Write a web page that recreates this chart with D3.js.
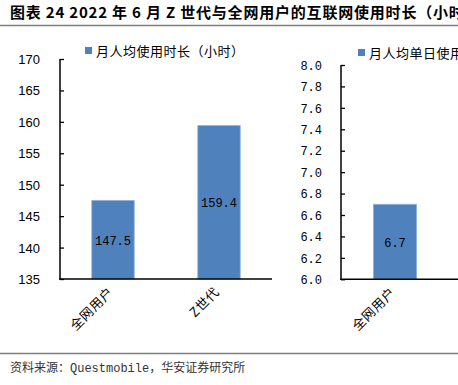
<!DOCTYPE html>
<html><head><meta charset="utf-8">
<script src="https://cdn.jsdelivr.net/npm/d3@7"></script>
<style>
html,body{margin:0;padding:0;background:#fff;overflow:hidden;}
svg{display:block;}
</style></head>
<body>
<script>
const titleText = "图表 24 2022 年 6 月 Z 世代与全网用户的互联网使用时长（小时）";
const sourceText = "资料来源：Questmobile，华安证券研究所";
const leftCategories = ["全网用户", "Z世代"];
const leftValues = [147.5, 159.4];
const leftTicks = [135, 140, 145, 150, 155, 160, 165, 170];
const leftLegend = "月人均使用时长（小时）";
const rightCategories = ["全网用户"];
const rightValues = [6.7];
const rightTicks = [6.0, 6.2, 6.4, 6.6, 6.8, 7.0, 7.2, 7.4, 7.6, 7.8, 8.0];
const rightLegend = "月人均单日使用时长（小时）";

const W = 458, H = 385;
const barColor = "#4F81BD";
const cjk = "'Noto Sans CJK SC', sans-serif";
const mono = "'Liberation Mono', 'Noto Sans CJK SC', monospace";

const svg = d3.select("body").append("svg").attr("width", W).attr("height", H);

// Title
svg.append("text").attr("x", 10).attr("y", 18)
  .attr("font-family", cjk).attr("font-weight", "bold").attr("font-size", 15)
  .attr("letter-spacing", 0.8)
  .attr("fill", "#000").text(titleText);
svg.append("line").attr("x1", 0).attr("x2", W).attr("y1", 25.5).attr("y2", 25.5)
  .attr("stroke", "#7f7f7f").attr("stroke-width", 1.5);

// Footer
svg.append("line").attr("x1", 0).attr("x2", W).attr("y1", 353.5).attr("y2", 353.5)
  .attr("stroke", "#7f7f7f").attr("stroke-width", 1.5);
svg.append("text").attr("x", 10).attr("y", 372)
  .attr("font-family", mono).attr("font-size", 12).attr("fill", "#333")
  .text(sourceText);

function panel(opts) {
  const g = svg.append("g");
  const y = d3.scaleLinear().domain(opts.domain).range([opts.y0, opts.y1]);
  const x = d3.scaleBand().domain(opts.categories).range([opts.x0, opts.x1])
    .paddingInner(0.6).paddingOuter(0.3);

  // bars
  g.selectAll("rect.bar").data(opts.values).join("rect")
    .attr("class", "bar")
    .attr("x", (d, i) => x(opts.categories[i]))
    .attr("width", x.bandwidth())
    .attr("y", d => y(d))
    .attr("height", d => y(opts.domain[0]) - y(d))
    .attr("fill", barColor)
    .attr("stroke", "#8DB0DA").attr("stroke-width", 0.8);

  // data labels
  g.selectAll("text.lbl").data(opts.values).join("text")
    .attr("class", "lbl")
    .attr("x", (d, i) => x(opts.categories[i]) + x.bandwidth() / 2)
    .attr("y", d => (y(d) + y(opts.domain[0])) / 2 + 5)
    .attr("text-anchor", "middle")
    .attr("font-family", mono).attr("font-size", 12).attr("fill", "#000")
    .text(d => d3.format(".1f")(d));

  // y axis
  const ya = d3.axisLeft(y).tickValues(opts.ticks).tickFormat(opts.fmt).tickSize(0).tickPadding(0);
  const yg = g.append("g").attr("transform", `translate(${opts.x0},0)`).call(ya);
  yg.select(".domain").remove();
  yg.selectAll(".tick text")
    .attr("x", opts.labelRight - opts.x0)
    .attr("dy", "0.35em")
    .attr("font-family", opts.tickFont).attr("font-size", opts.tickSize).attr("fill", "#000");
  yg.selectAll(".tick").append("line")
    .attr("x1", 0).attr("x2", 4).attr("stroke", "#000").attr("stroke-width", 1.3);
  g.append("line").attr("x1", opts.x0).attr("x2", opts.x0)
    .attr("y1", opts.y1).attr("y2", opts.y0 + 0.8)
    .attr("stroke", "#000").attr("stroke-width", 1.5);
  // x axis line
  g.append("line").attr("x1", opts.x0 - 0.75).attr("x2", opts.xAxisEnd)
    .attr("y1", opts.y0).attr("y2", opts.y0)
    .attr("stroke", "#000").attr("stroke-width", 1.5);

  // x labels rotated
  g.selectAll("text.xl").data(opts.categories).join("text")
    .attr("class", "xl")
    .attr("transform", d => `translate(${x(d) + x.bandwidth() / 2 + 1},${opts.y0 + 14}) rotate(-45)`)
    .attr("text-anchor", "end")
    .attr("font-family", cjk).attr("font-size", 13).attr("fill", "#000")
    .attr("letter-spacing", 0.5)
    .text(d => d);

  // legend
  g.append("rect").attr("x", opts.legendX).attr("y", opts.legendY - 4)
    .attr("width", 7).attr("height", 7).attr("fill", barColor);
  g.append("text").attr("x", opts.legendX + 11).attr("y", opts.legendY + 4.5)
    .attr("font-family", cjk).attr("font-size", 13).attr("fill", "#000")
    .attr("letter-spacing", 0.5)
    .text(opts.legend);
}

panel({
  categories: leftCategories, values: leftValues, ticks: leftTicks,
  domain: [135, 170], y0: 279, y1: 59,
  x0: 60, x1: 272, xAxisEnd: 272,
  labelRight: 40, tickFont: "'Liberation Sans', Arial, sans-serif", tickSize: 13,
  fmt: d3.format("d"),
  legend: leftLegend, legendX: 85, legendY: 51
});

panel({
  categories: rightCategories, values: rightValues, ticks: rightTicks,
  domain: [6.0, 8.0], y0: 279.3, y1: 65,
  x0: 341, x1: 449, xAxisEnd: 460,
  labelRight: 322, tickFont: mono, tickSize: 12,
  fmt: d3.format(".1f"),
  legend: rightLegend, legendX: 358, legendY: 53
});
</script>
</body></html>
